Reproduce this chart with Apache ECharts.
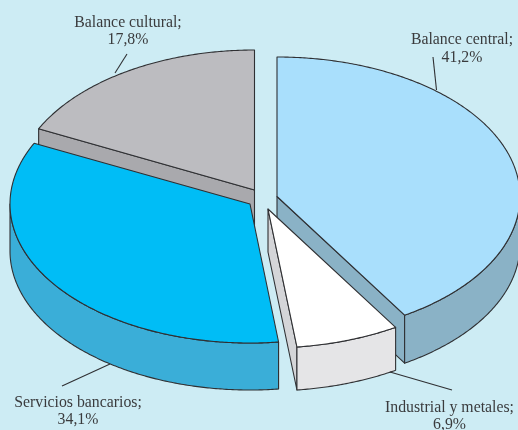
<!DOCTYPE html>
<html><head><meta charset="utf-8">
<style>html,body{margin:0;padding:0;background:#cdecf4}#c{width:518px;height:430px}</style>
<script src="https://cdn.jsdelivr.net/npm/echarts@6/dist/echarts.min.js"></script>
</head><body><div id="c"></div>
<script>
// data, clockwise from 12 o'clock
const categories = ['Balance central', 'Industrial y metales', 'Servicios bancarios', 'Balance cultural'];
const values = [41.2, 6.9, 34.1, 17.8];
const percentLabels = ['41,2%', '6,9%', '34,1%', '17,8%'];
// style / layout
const topColors = ['#a9dffc', '#ffffff', '#00bdf6', '#bcbcc0'];
const rimColors = ['#8ab2c6', '#e5e5e7', '#3aaed8', '#a9a9ad'];
const cutColors = ['#8ab2c6', '#d4d5d8', '#3aaed8', '#a9a9ad'];
const apexX = [277, 268, 250, 254.5];
const apexY = [196.5, 209, 204, 190];
const radiusX = [243, 243, 240, 240];
const radiusY = [139.5, 139, 139, 140];
const depths = [48, 43, 47, 47];
const drawOrder = [1, 3, 2, 0];
const labelX = [462, 449.5, 78, 128];
const labelTop = [31.5, 399, 394, 14];
const leaders = [
  [[433, 57], [436.5, 90]],
  [[452, 390], [390, 372]],
  [[62, 386], [110, 364]],
  [[127, 54], [115, 73]]
];
const INK = '#2f3033', TXT = '#3a3b3d';
const total = values.reduce((a, b) => a + b, 0);

const chart = echarts.init(document.getElementById('c'), null, {renderer: 'canvas'});
function pt(i, deg, dy) {
  const r = deg * Math.PI / 180;
  return [apexX[i] + radiusX[i] * Math.sin(r), apexY[i] - radiusY[i] * Math.cos(r) + (dy || 0)];
}
function arc(i, a, b, dy) {
  const n = Math.max(2, Math.ceil(Math.abs(b - a) * 2)), pts = [];
  for (let k = 0; k <= n; k++) pts.push(pt(i, a + (b - a) * k / n, dy));
  return pts;
}
function renderItem(params, api) {
  const i = params.dataIndex;
  let before = 0;
  for (let k = 0; k < i; k++) before += values[k];
  const a0 = before / total * 360;
  const a1 = (before + api.value(0)) / total * 360;
  const d = depths[i];
  const base = drawOrder[i] * 10;
  const style = fill => ({fill: fill, stroke: INK, lineWidth: 1.1, lineJoin: 'round'});
  const children = [];
  const poly = (points, z, fill) => children.push({type: 'polygon', z2: base + z, shape: {points}, style: style(fill)});
  const c = [apexX[i], apexY[i]];
  const wall = ang => poly([c, pt(i, ang), pt(i, ang, d), [c[0], c[1] + d]], 1, cutColors[i]);
  if (Math.sin(a1 * Math.PI / 180) > 1e-6) wall(a1);
  if (Math.sin(a0 * Math.PI / 180) < -1e-6) wall(a0);
  const r0 = Math.max(a0, 90), r1 = Math.min(a1, 270);
  if (r1 > r0) poly(arc(i, r0, r1, 0).concat(arc(i, r1, r0, d)), 2, rimColors[i]);
  poly([c].concat(arc(i, a0, a1, 0)), 3, topColors[i]);
  children.push({type: 'polyline', z2: 100, shape: {points: leaders[i]}, style: {stroke: INK, lineWidth: 1.1, fill: null}});
  children.push({type: 'text', z2: 101, style: {
    text: api.value(1) + ';\n' + percentLabels[i], x: labelX[i], y: labelTop[i],
    align: 'center', verticalAlign: 'top',
    font: '15.8px "Liberation Serif"', lineHeight: 17.5, fill: TXT}});
  return {type: 'group', children};
}
chart.setOption({
  backgroundColor: '#cdecf4',
  animation: false,
  series: [{
    type: 'custom', coordinateSystem: 'none', renderItem,
    data: values.map((v, i) => [v, categories[i]]),
    dimensions: [{name: 'share', type: 'number'}, {name: 'name', type: 'ordinal'}],
    silent: true
  }]
});
</script></body></html>
